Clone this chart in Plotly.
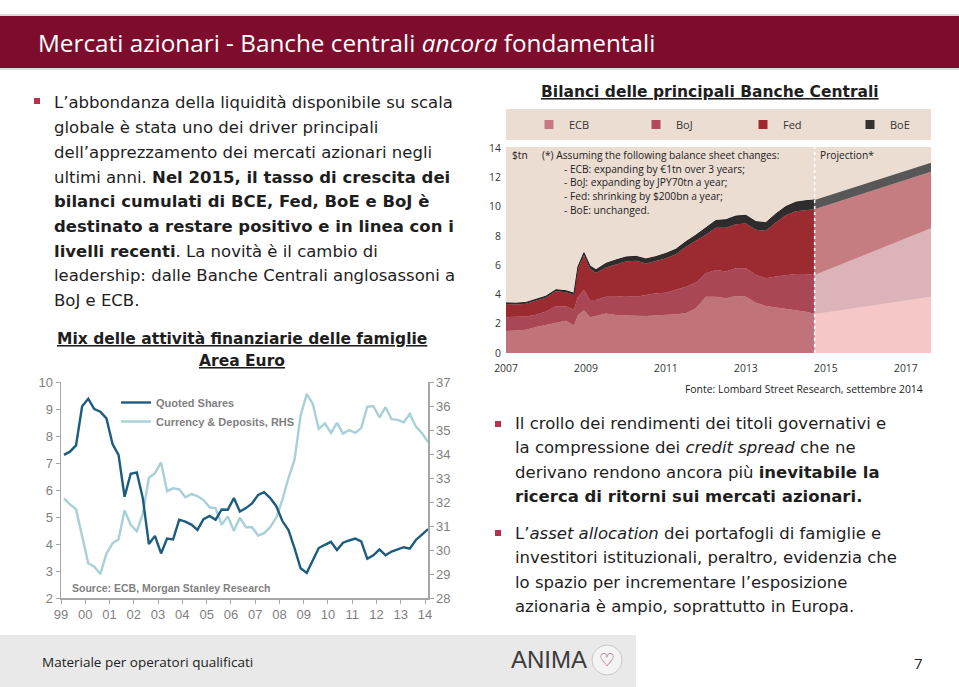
import pandas as pd
import plotly.graph_objects as go

W, H = 959, 687


def X(p):
    return p / W


def Y(p):
    return 1 - p / H


# ---------------- Left chart: household financial assets (Euro Area) ----------------
quarters = pd.period_range("1999Q1", "2014Q1", freq="Q")
quarter_dates = [p.start_time + pd.Timedelta(days=45) for p in quarters]

quoted_shares = [
    7.30, 7.42, 7.65, 9.10, 9.38, 9.00, 8.90, 8.65, 7.70, 7.30,
    5.75, 6.60, 6.65, 5.70, 4.00, 4.30, 3.65, 4.20, 4.17, 4.90,
    4.83, 4.72, 4.52, 4.92, 5.04, 4.90, 5.28, 5.27, 5.70, 5.20,
    5.33, 5.50, 5.82, 5.92, 5.70, 5.40, 4.85, 4.52, 3.85, 3.10,
    2.93, 3.40, 3.85, 3.97, 4.08, 3.78, 4.05, 4.13, 4.20, 4.10,
    3.45, 3.58, 3.80, 3.58, 3.72, 3.80, 3.88, 3.83, 4.15, 4.35,
    4.55,
]
currency_deposits = [
    32.15, 31.90, 31.70, 30.50, 29.45, 29.30, 29.00, 29.85, 30.28, 30.45,
    31.65, 31.05, 30.78, 31.50, 33.00, 33.20, 33.65, 32.45, 32.57, 32.53,
    32.20, 32.33, 32.25, 32.08, 31.78, 31.74, 31.05, 31.40, 30.80, 31.35,
    30.95, 30.95, 30.60, 30.70, 30.95, 31.35, 32.10, 33.00, 33.75, 35.60,
    36.50, 36.10, 35.05, 35.28, 34.88, 35.30, 34.85, 35.00, 34.88, 35.08,
    35.97, 36.00, 35.52, 35.95, 35.45, 35.42, 35.32, 35.67, 35.15, 34.87,
    34.50,
]
left_years = list(range(1999, 2015))
left_year_labels = ["99", "00", "01", "02", "03", "04", "05", "06", "07", "08",
                    "09", "10", "11", "12", "13", "14"]

# ---------------- Right chart: central bank balance sheets ($tn) ----------------
hist_t = [2007.0, 2007.25, 2007.5, 2007.75, 2008.0, 2008.25, 2008.5, 2008.7, 2008.8, 2008.95,
          2009.1, 2009.25, 2009.5, 2009.75, 2010.0, 2010.25, 2010.5, 2010.75, 2011.0, 2011.25,
          2011.5, 2011.75, 2012.0, 2012.25, 2012.5, 2012.75, 2013.0, 2013.25, 2013.5, 2013.75,
          2014.0, 2014.25, 2014.5, 2014.72]
ecb_hist = [1.50, 1.52, 1.58, 1.78, 1.92, 2.07, 2.20, 1.88, 2.60, 2.92,
            2.45, 2.52, 2.70, 2.60, 2.60, 2.55, 2.53, 2.55, 2.60, 2.64,
            2.71, 3.05, 3.85, 3.85, 3.74, 3.90, 3.85, 3.44, 3.21, 3.12,
            3.00, 2.94, 2.82, 2.68]
boj_hist = [0.95, 0.94, 0.92, 0.84, 0.91, 1.13, 1.00, 1.07, 1.25, 1.38,
            1.17, 1.10, 1.15, 1.25, 1.30, 1.30, 1.43, 1.53, 1.52, 1.66,
            1.82, 1.76, 1.59, 1.82, 1.82, 1.89, 1.94, 1.89, 1.89, 2.10,
            2.33, 2.46, 2.58, 2.65]
fed_hist = [0.89, 0.86, 0.87, 0.93, 0.95, 1.02, 0.95, 1.01, 1.90, 2.37,
            2.13, 1.84, 1.99, 2.20, 2.35, 2.45, 2.16, 2.20, 2.36, 2.45,
            2.72, 2.86, 2.63, 2.88, 2.99, 3.01, 3.06, 3.09, 3.25, 3.70,
            4.07, 4.28, 4.38, 4.49]
boe_hist = [0.08, 0.08, 0.08, 0.10, 0.10, 0.10, 0.10, 0.12, 0.15, 0.18,
            0.20, 0.22, 0.28, 0.30, 0.30, 0.30, 0.30, 0.30, 0.32, 0.33,
            0.35, 0.38, 0.45, 0.50, 0.55, 0.55, 0.55, 0.55, 0.55, 0.58,
            0.60, 0.62, 0.62, 0.63]

proj_t = [2014.72, 2017.63]
ecb_proj = [2.67, 3.85]
boj_proj = [2.66, 4.67]
fed_proj = [4.49, 3.86]
boe_proj = [0.63, 0.62]
projection_start = 2014.72

bank_names = ["ECB", "BoJ", "Fed", "BoE"]
right_years = [2007, 2009, 2011, 2013, 2015, 2017]
right_yticks = [0, 2, 4, 6, 8, 10, 12, 14]

# ---------------- Styles ----------------
MAROON = "#7e0c2c"
BEIGE = "#ecddd3"
BULLET = "#b8304f"
TEXT = "#1e1e1e"
BODY_FONT = "DejaVu Sans"
TITLE_FONT = "Open Sans"
CHART_FONT = "Open Sans"
hist_colors = ["#c1737b", "#aa4756", "#9b2a31", "#2e2c2c"]
proj_colors = ["#f7c7c7", "#dcb3b8", "#c57d82", "#575757"]
legend_colors = ["#c8797f", "#b04959", "#a0292f", "#333333"]

fig = go.Figure()

# Left chart traces
fig.add_trace(go.Scatter(
    x=quarter_dates, y=currency_deposits, mode="lines", name="Currency & Deposits, RHS",
    line=dict(color="#a8d0d9", width=2.4), xaxis="x", yaxis="y", legend="legend",
    legendrank=2, hoverinfo="skip"))
fig.add_trace(go.Scatter(
    x=quarter_dates, y=quoted_shares, mode="lines", name="Quoted Shares",
    line=dict(color="#1c5c7e", width=2.4), xaxis="x", yaxis="y3", legend="legend",
    legendrank=1, hoverinfo="skip"))

# Right chart: historical stacked areas
for name, vals, col in zip(bank_names, [ecb_hist, boj_hist, fed_hist, boe_hist], hist_colors):
    fig.add_trace(go.Scatter(
        x=hist_t, y=vals, mode="lines", stackgroup="hist", name=name,
        line=dict(width=1 if name == "BoE" else 0, color="#222222" if name == "BoE" else col),
        fillcolor=col, xaxis="x2", yaxis="y2", showlegend=False, hoverinfo="skip"))
# Right chart: projections
for name, vals, col in zip(bank_names, [ecb_proj, boj_proj, fed_proj, boe_proj], proj_colors):
    fig.add_trace(go.Scatter(
        x=proj_t, y=vals, mode="lines", stackgroup="proj", name=name + " proj",
        line=dict(width=0, color=col), fillcolor=col, xaxis="x2", yaxis="y2",
        showlegend=False, hoverinfo="skip"))
# Right chart legend entries
for name, col in zip(bank_names, legend_colors):
    fig.add_trace(go.Scatter(
        x=[None], y=[None], mode="markers", name=name,
        marker=dict(symbol="square", size=9, color=col),
        xaxis="x2", yaxis="y2", legend="legend2", hoverinfo="skip"))

shapes = []
# header bar
shapes.append(dict(type="rect", xref="paper", yref="paper", x0=0, x1=1, y0=Y(70), y1=Y(14),
                   fillcolor="#dcdcdc", line=dict(width=0), layer="below"))
shapes.append(dict(type="rect", xref="paper", yref="paper", x0=0, x1=1, y0=Y(68), y1=Y(16),
                   fillcolor=MAROON, line=dict(width=0), layer="below"))
# footer
shapes.append(dict(type="rect", xref="paper", yref="paper", x0=0, x1=X(636), y0=0, y1=Y(635),
                   fillcolor="#e9e9e9", line=dict(width=0), layer="below"))
# right chart backgrounds
shapes.append(dict(type="rect", xref="x2 domain", yref="y2 domain", x0=0, x1=1, y0=0, y1=1,
                   fillcolor=BEIGE, line=dict(width=0), layer="below"))
shapes.append(dict(type="rect", xref="paper", yref="paper", x0=X(506), x1=X(931), y0=Y(140), y1=Y(109),
                   fillcolor=BEIGE, line=dict(width=0), layer="below"))
# projection divider
shapes.append(dict(type="line", xref="x2", yref="y2 domain", x0=projection_start, x1=projection_start,
                   y0=0, y1=1, line=dict(color="white", width=1.5, dash="dot"), layer="above"))
# bullets
for bx, by in [(37, 101), (498, 424), (498, 533)]:
    shapes.append(dict(type="rect", xref="paper", yref="paper", x0=X(bx - 3), x1=X(bx + 3),
                       y0=Y(by + 3), y1=Y(by - 3), fillcolor=BULLET, line=dict(width=0)))
# logo circle
shapes.append(dict(type="circle", xref="paper", yref="paper", x0=X(592), x1=X(622), y0=Y(675), y1=Y(645),
                   fillcolor="#f4f4f4", line=dict(color="#c8c8c8", width=1)))

annotations = []


def txt(x, y, text, size=16.5, color=TEXT, anchor="left", family=BODY_FONT, weight=None):
    f = dict(family=family, size=size, color=color)
    if weight:
        f["weight"] = weight
    annotations.append(dict(xref="paper", yref="paper", x=X(x), y=Y(y), text=text, showarrow=False,
                            xanchor=anchor, yanchor="middle", font=f, align=anchor))


# header title
txt(36, 43, "Mercati azionari - Banche centrali <i>ancora</i> fondamentali", size=24.3, color="white",
    family=TITLE_FONT)

# left body text
left_lines = [
    "L\u2019abbondanza della liquidità disponibile su scala",
    "globale è stata uno dei driver principali",
    "dell\u2019apprezzamento dei mercati azionari negli",
    "ultimi anni. <b>Nel 2015, il tasso di crescita dei</b>",
    "<b>bilanci cumulati di BCE, Fed, BoE e BoJ è</b>",
    "<b>destinato a restare positivo e in linea con i</b>",
    "<b>livelli recenti</b>. La novità è il cambio di",
    "leadership: dalle Banche Centrali anglosassoni a",
    "BoJ e ECB.",
]
for i, line in enumerate(left_lines):
    txt(52, 103 + 24.7 * i, line)

# right body text
right_lines_1 = [
    "Il crollo dei rendimenti dei titoli governativi e",
    "la compressione dei <i>credit spread</i> che ne",
    "derivano rendono ancora più <b>inevitabile la</b>",
    "<b>ricerca di ritorni sui mercati azionari.</b>",
]
for i, line in enumerate(right_lines_1):
    txt(513, 423 + 24.6 * i, line)
right_lines_2 = [
    "L\u2019<i>asset allocation</i> dei portafogli di famiglie e",
    "investitori istituzionali, peraltro, evidenzia che",
    "lo spazio per incrementare l\u2019esposizione",
    "azionaria è ampio, soprattutto in Europa.",
]
for i, line in enumerate(right_lines_2):
    txt(513, 533 + 24.6 * i, line)

# chart titles
txt(242, 339, "<u>Mix delle attività finanziarie delle famiglie</u>", size=15.5, anchor="center", weight="bold")
txt(242, 361, "<u>Area Euro</u>", size=15.5, anchor="center", weight="bold")
txt(710, 92, "<u>Bilanci delle principali Banche Centrali</u>", size=15.5, anchor="center", weight="bold")

# left chart source
txt(70, 588, "Source: ECB, Morgan Stanley Research", size=10.5, color="#7f7f7f",
    family="Liberation Sans, Arial", weight="bold")

# right chart notes
NOTE = "#222222"
txt(510, 155, "$tn", size=10.2, color=NOTE, family=CHART_FONT)
txt(540, 155, "(*) Assuming the following balance sheet changes:", size=10.2, color=NOTE, family=CHART_FONT)
for i, line in enumerate([
    "- ECB: expanding by \u20ac1tn over 3 years;",
    "- BoJ: expanding by JPY70tn a year;",
    "- Fed: shrinking by $200bn a year;",
    "- BoE: unchanged.",
]):
    txt(562, 168.5 + 13.9 * i, line, size=10.2, color=NOTE, family=CHART_FONT)
txt(818, 155, "Projection*", size=10.2, color=NOTE, family=CHART_FONT)
txt(925, 389, "Fonte: Lombard Street Research, settembre 2014", size=10.4, color=NOTE, anchor="right",
    family=CHART_FONT)

# footer
txt(40, 662, "Materiale per operatori qualificati", size=13.5, color="#222222", family=TITLE_FONT)
txt(549, 659, "ANIMA", size=24, color="#3c3c3c", anchor="center", family="Liberation Sans, Arial")
txt(607, 659, "\u2661", size=18, color="#a2306a", anchor="center", family="DejaVu Sans")
txt(918, 663, "7", size=15, color="#222222", anchor="center", family=TITLE_FONT)

AX = "#a6a6a6"
AXT = "#7f7f7f"
TICKF = dict(family="Liberation Sans, Arial", size=13, color=AXT)

fig.update_layout(
    width=W, height=H, autosize=False,
    margin=dict(l=0, r=0, t=0, b=0, pad=0, autoexpand=False),
    paper_bgcolor="white", plot_bgcolor="rgba(0,0,0,0)",
    showlegend=True, hovermode=False,
    shapes=shapes, annotations=annotations,
    xaxis=dict(domain=[X(61), X(428)], anchor="y", type="date",
               range=["1999-01-01", "2014-02-14"],
               tickvals=[f"{y}-01-01" for y in left_years], ticktext=left_year_labels,
               ticks="outside", ticklen=4, tickcolor=AX, showline=True, linecolor=AX, linewidth=1.5,
               showgrid=False, zeroline=False, tickfont=TICKF, tickangle=0),
    yaxis=dict(domain=[Y(598), Y(382)], anchor="x", side="right", range=[28, 37], dtick=1,
               ticks="outside", ticklen=4, tickcolor=AX, showline=True, linecolor=AX, linewidth=1.5,
               showgrid=False, zeroline=False, tickfont=TICKF),
    yaxis3=dict(overlaying="y", anchor="x", side="left", range=[2, 10], dtick=1,
                ticks="outside", ticklen=4, tickcolor=AX, showline=True, linecolor=AX, linewidth=1.5,
                showgrid=False, zeroline=False, tickfont=TICKF),
    xaxis2=dict(domain=[X(506), X(931)], anchor="y2", range=[2007.0, 2017.63],
                tickvals=right_years, ticktext=[str(y) for y in right_years],
                ticks="", showline=False, showgrid=False, zeroline=False, ticklabelstandoff=8,
                tickfont=dict(family=CHART_FONT, size=10.4, color="#333333")),
    yaxis2=dict(domain=[Y(353), Y(147)], anchor="x2", range=[0, 14.07],
                tickvals=right_yticks, ticks="", showline=False, showgrid=False, zeroline=False,
                ticklabelstandoff=4,
                tickfont=dict(family=CHART_FONT, size=10.4, color="#333333")),
    legend=dict(x=X(116), y=Y(388), xanchor="left", yanchor="top", bgcolor="rgba(0,0,0,0)",
                font=dict(family="Liberation Sans, Arial", size=11, color="#7f7f7f", weight="bold"),
                tracegroupgap=0, itemwidth=30, traceorder="normal"),
    legend2=dict(orientation="h", x=X(529), y=Y(124.5), xanchor="left", yanchor="middle",
                 bgcolor="rgba(0,0,0,0)", entrywidth=62, entrywidthmode="pixels",
                 font=dict(family=CHART_FONT, size=11, color="#333333"), itemwidth=30),
)

fig.write_html("out.html", config={"displayModeBar": False, "staticPlot": True},
               post_script="document.body.style.margin='0px';")
